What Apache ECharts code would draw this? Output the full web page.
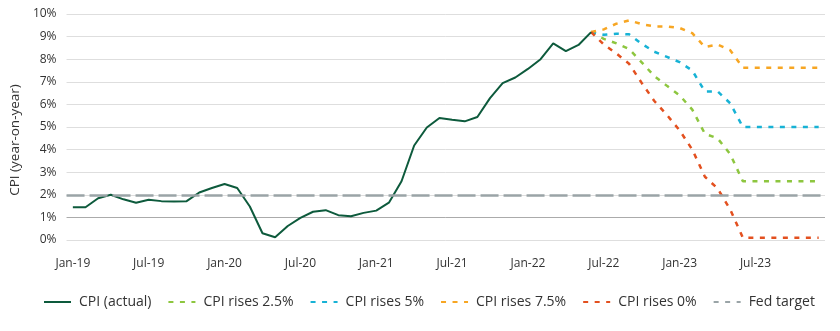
<!DOCTYPE html>
<html>
<head>
<meta charset="utf-8">
<script src="https://cdn.jsdelivr.net/npm/echarts@6/dist/echarts.min.js"></script>
<style>
html,body{margin:0;padding:0;background:#fff;}
#chart{width:840px;height:331px;}
</style>
</head>
<body>
<div id="chart"></div>
<script>
var categories = [
 'Jan-19','Feb-19','Mar-19','Apr-19','May-19','Jun-19','Jul-19','Aug-19','Sep-19','Oct-19','Nov-19','Dec-19',
 'Jan-20','Feb-20','Mar-20','Apr-20','May-20','Jun-20','Jul-20','Aug-20','Sep-20','Oct-20','Nov-20','Dec-20',
 'Jan-21','Feb-21','Mar-21','Apr-21','May-21','Jun-21','Jul-21','Aug-21','Sep-21','Oct-21','Nov-21','Dec-21',
 'Jan-22','Feb-22','Mar-22','Apr-22','May-22','Jun-22','Jul-22','Aug-22','Sep-22','Oct-22','Nov-22','Dec-22',
 'Jan-23','Feb-23','Mar-23','Apr-23','May-23','Jun-23','Jul-23','Aug-23','Sep-23','Oct-23','Nov-23','Dec-23'
];
// Actual CPI, Jan-19 .. Jun-22
var cpiActual = [1.45,1.45,1.85,2.0,1.8,1.65,1.78,1.72,1.7,1.72,2.1,2.3,
 2.48,2.3,1.48,0.3,0.12,0.62,0.98,1.25,1.32,1.1,1.05,1.2,
 1.3,1.65,2.6,4.18,4.98,5.4,5.32,5.25,5.44,6.28,6.94,7.19,
 7.57,8.0,8.7,8.36,8.63,9.2];
// Projections, Jun-22 .. Dec-23
var projStart = 'Jun-22';
var rise25 = [9.2,8.9,8.7,8.45,7.86,7.25,6.82,6.4,5.77,4.7,4.5,3.8,2.6,2.6,2.6,2.6,2.6,2.6,2.6];
var rise5  = [9.2,9.08,9.13,9.1,8.68,8.33,8.1,7.87,7.5,6.57,6.58,6.05,5.0,5.0,5.0,5.0,5.0,5.0,5.0];
var rise75 = [9.2,9.32,9.57,9.72,9.55,9.45,9.45,9.38,9.15,8.54,8.65,8.4,7.62,7.62,7.62,7.62,7.62,7.62,7.62];
var rise0  = [9.2,8.65,8.25,7.8,6.95,6.15,5.53,4.85,4.0,2.8,2.28,1.35,0.1,0.1,0.1,0.1,0.1,0.1,0.1];
var fedTarget = 2;
var yTicks = [0,1,2,3,4,5,6,7,8,9,10];

function full(arr, startLabel) {
  var s = categories.indexOf(startLabel);
  var out = [];
  for (var i = 0; i < categories.length; i++) {
    var j = i - s;
    out.push(j >= 0 && j < arr.length ? arr[j] : null);
  }
  return out;
}
function fullActual(arr) {
  var out = [];
  for (var i = 0; i < categories.length; i++) out.push(i < arr.length ? arr[i] : null);
  return out;
}

var FONT = 'Open Sans';
var splitColors = yTicks.map(function (v) { return v === 1 ? '#ababab' : '#dedede'; });

function proj(name, arr, color) {
  return {
    name: name, type: 'line', data: full(arr, projStart), symbol: 'none', z: 3,
    lineStyle: { color: color, width: 2.5, type: [5, 6.5] },
    itemStyle: { color: color }
  };
}

var chart = echarts.init(document.getElementById('chart'), null, { renderer: 'canvas' });
chart.setOption({
  animation: false,
  backgroundColor: '#fff',
  textStyle: { fontFamily: FONT },
  grid: { left: 58, right: 15, top: 14, bottom: 91, containLabel: false },
  xAxis: {
    type: 'category', data: categories, boundaryGap: true,
    axisLine: { show: false }, axisTick: { show: false },
    axisLabel: { interval: 5, margin: 18, color: '#333', fontSize: 12, fontFamily: FONT }
  },
  yAxis: {
    type: 'value', min: 0, max: 10, interval: 1,
    name: 'CPI (year-on-year)', nameLocation: 'middle', nameGap: 41, nameRotate: 90,
    nameTextStyle: { color: '#333', fontSize: 13.5, fontFamily: FONT, padding: [0, 26, 0, 0] },
    axisLine: { show: false }, axisTick: { show: false },
    axisLabel: { formatter: '{value}%', margin: 10, color: '#333', fontSize: 12, fontFamily: FONT },
    splitLine: { lineStyle: { color: splitColors, width: 1 } }
  },
  legend: {
    left: 43, top: 295, padding: 0, itemWidth: 27, itemHeight: 10, itemGap: 16,
    itemStyle: { opacity: 0 },
    textStyle: { color: '#333', fontSize: 14, fontFamily: FONT, padding: [0, 0, 0, 3] },
    data: ['CPI (actual)', 'CPI rises 2.5%', 'CPI rises 5%', 'CPI rises 7.5%', 'CPI rises 0%', 'Fed target']
  },
  series: [
    {
      name: 'Fed target', type: 'line', data: [], symbol: 'none', z: 1,
      lineStyle: { color: '#9aa4a7', width: 2.5, type: [5, 6.5] },
      itemStyle: { color: '#9aa4a7' },
      markLine: {
        silent: true, symbol: 'none', label: { show: false },
        lineStyle: { color: '#9aa4a7', width: 2.5, type: [18, 5] },
        data: [{ yAxis: fedTarget }]
      }
    },
    {
      name: 'CPI (actual)', type: 'line', data: fullActual(cpiActual), symbol: 'none', z: 4,
      lineStyle: { color: '#0d5a3c', width: 2 }, itemStyle: { color: '#0d5a3c' }
    },
    proj('CPI rises 2.5%', rise25, '#8dc63f'),
    proj('CPI rises 5%', rise5, '#17b2d5'),
    proj('CPI rises 7.5%', rise75, '#f7a623'),
    proj('CPI rises 0%', rise0, '#e3501f')
  ]
});
</script>
</body>
</html>
